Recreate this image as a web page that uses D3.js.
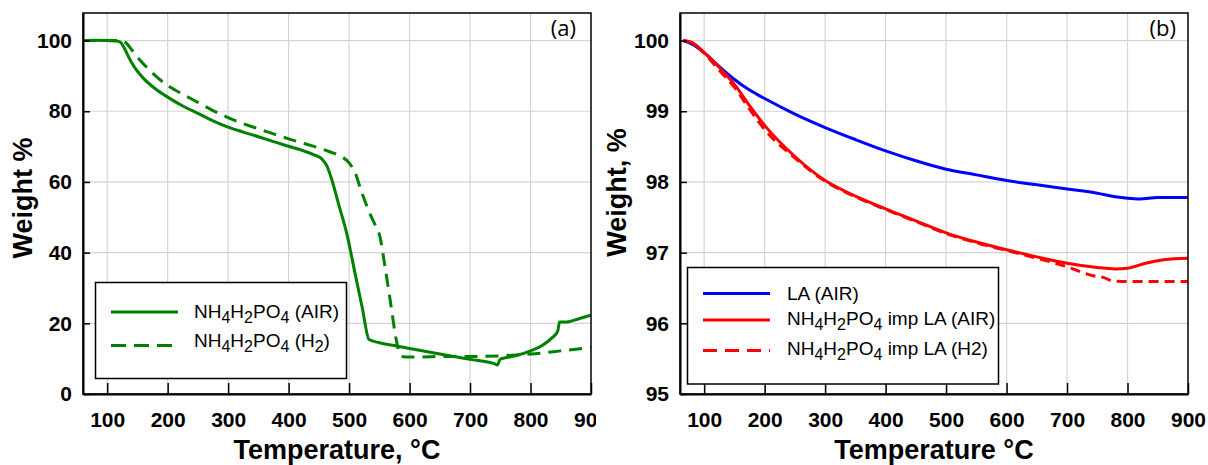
<!DOCTYPE html>
<html>
<head>
<meta charset="utf-8">
<script src="https://cdn.jsdelivr.net/npm/d3@7"></script>
<style>
  html, body { margin: 0; padding: 0; background: #fff; }
  svg { display: block; font-family: "Liberation Sans", Arial, sans-serif; }
</style>
</head>
<body>
<svg id="chart" width="1208" height="465"></svg>
<script>
// ---- data ----
const xTicks = [100, 200, 300, 400, 500, 600, 700, 800, 900];
const yTicksA = [0, 20, 40, 60, 80, 100];
const yTicksB = [95, 96, 97, 98, 99, 100];

// panel (a): NH4H2PO4 in air
const airT = [60, 80, 100, 115, 122, 128, 135, 145, 160, 180, 200, 225, 250, 275, 300, 325, 350, 375, 400, 425, 443, 455, 463, 470, 483, 496, 510, 522, 533, 550, 575, 600, 650, 700, 740, 745, 750, 775, 800, 820, 835, 845, 848, 860, 880, 900];
const airW = [100, 100.1, 100, 99.9, 99.5, 98, 95.5, 92.5, 89.3, 86.3, 84, 81.5, 79.4, 77.3, 75.5, 74.1, 72.8, 71.4, 70.1, 68.8, 67.6, 66.5, 64.6, 61.4, 53.5, 45.5, 34, 24.2, 15.4, 14.5, 13.7, 12.9, 11.3, 9.8, 8.6, 8.2, 9.9, 10.8, 12.2, 13.8, 15.8, 17.8, 20.4, 20.4, 21.3, 22.3];
// panel (a): NH4H2PO4 in H2
const h2T = [60, 100, 125, 132, 140, 150, 165, 180, 200, 225, 250, 275, 300, 325, 350, 375, 400, 425, 450, 470, 485, 500, 510, 520, 534, 544, 551, 558, 568, 578, 584, 592, 620, 650, 700, 750, 800, 850, 900];
const h2W = [100, 100, 100, 99.2, 97.5, 95.3, 92.5, 90, 87.3, 84.8, 82.5, 80.2, 78.2, 76.5, 75, 73.6, 72.2, 70.9, 69.6, 68.4, 67.4, 65.4, 62.6, 57.5, 51.2, 47.5, 44.5, 37.5, 26.5, 15.3, 11.2, 10.5, 10.5, 10.6, 10.6, 10.8, 11.3, 12.2, 13.2];

// panel (b): LA in air
const laT = [65, 80, 100, 125, 150, 175, 200, 250, 300, 350, 400, 450, 500, 550, 600, 650, 700, 750, 780, 800, 820, 850, 900];
const laW = [100, 99.95, 99.83, 99.63, 99.45, 99.3, 99.18, 98.96, 98.77, 98.6, 98.44, 98.3, 98.18, 98.1, 98.02, 97.96, 97.9, 97.84, 97.79, 97.77, 97.76, 97.78, 97.78];
// panel (b): NH4H2PO4 impregnated LA in air
const impAirT = [65, 80, 100, 125, 150, 175, 200, 250, 300, 350, 400, 450, 500, 550, 600, 650, 700, 750, 780, 800, 830, 860, 900];
const impAirW = [100, 99.97, 99.83, 99.62, 99.38, 99.08, 98.8, 98.36, 98.02, 97.8, 97.62, 97.45, 97.28, 97.15, 97.04, 96.94, 96.85, 96.79, 96.77, 96.78, 96.85, 96.9, 96.92];
// panel (b): NH4H2PO4 impregnated LA in H2
const impH2T = [65, 80, 100, 125, 150, 175, 200, 250, 300, 350, 400, 450, 500, 550, 600, 650, 700, 725, 745, 760, 775, 800, 850, 900];
const impH2W = [100, 99.97, 99.82, 99.58, 99.34, 99.03, 98.74, 98.34, 98.01, 97.79, 97.61, 97.44, 97.27, 97.14, 97.03, 96.92, 96.8, 96.72, 96.67, 96.65, 96.6, 96.59, 96.59, 96.59];

const zip = (xs, ys) => xs.map((x, i) => [x, ys[i]]);

const svg = d3.select("#chart");

// left panel is clipped on its right side like in the original figure
svg.append("defs").append("clipPath").attr("id", "clipA")
    .append("rect").attr("x", 0).attr("y", 0).attr("width", 596).attr("height", 465);

function drawPanel(g, opt) {
    const x = d3.scaleLinear().domain([60, 900]).range([opt.left, opt.right]);
    const y = d3.scaleLinear().domain(opt.yDomain).range([394, 13]);

    // grid
    g.append("g").selectAll("line").data(xTicks.slice(0, -1)).enter().append("line")
        .attr("x1", d => x(d)).attr("x2", d => x(d))
        .attr("y1", y.range()[0]).attr("y2", y.range()[1])
        .attr("stroke", "#d4d4d4").attr("stroke-width", 1.2);
    g.append("g").selectAll("line").data(opt.yTicks.slice(1)).enter().append("line")
        .attr("x1", opt.left).attr("x2", opt.right)
        .attr("y1", d => y(d)).attr("y2", d => y(d))
        .attr("stroke", "#d4d4d4").attr("stroke-width", 1.2);

    // series
    const line = d3.line().x(d => x(d[0])).y(d => y(d[1])).curve(d3.curveMonotoneX);
    opt.series.forEach(s => {
        g.append("path")
            .attr("d", line(zip(s.t, s.w)))
            .attr("fill", "none")
            .attr("stroke", s.color)
            .attr("stroke-width", 3)
            .attr("stroke-dasharray", s.dash || null);
    });

    // frame
    g.append("rect")
        .attr("x", opt.left).attr("y", 13)
        .attr("width", opt.right - opt.left).attr("height", 394 - 13)
        .attr("fill", "none").attr("stroke", "#000").attr("stroke-width", 1.5);

    // axes
    const xAxis = d3.axisBottom(x).tickValues(xTicks).tickSizeInner(-11).tickSizeOuter(0).tickPadding(18);
    const yAxis = d3.axisLeft(y).tickValues(opt.yTicks).tickFormat(d3.format("d"))
        .tickSizeInner(-7).tickSizeOuter(0).tickPadding(11);

    const gx = g.append("g").attr("transform", "translate(0,394)").call(xAxis);
    const gy = g.append("g").attr("transform", "translate(" + opt.left + ",0)").call(yAxis);
    [gx, gy].forEach(a => {
        a.select(".domain").attr("stroke", "#000").attr("stroke-width", 2);
        a.selectAll(".tick line").attr("stroke", "#000").attr("stroke-width", 1.5);
        a.selectAll(".tick text")
            .attr("font-family", "Liberation Sans, Arial, sans-serif")
            .attr("font-size", 21).attr("font-weight", "bold").attr("fill", "#000");
    });

    // axis titles
    g.append("text")
        .attr("x", (opt.left + opt.right) / 2).attr("y", 459)
        .attr("text-anchor", "middle")
        .attr("font-size", 27).attr("font-weight", "bold")
        .text(opt.xTitle);
    g.append("text")
        .attr("transform", "translate(" + opt.yTitleX + "," + opt.yTitleY + ") rotate(-90)")
        .attr("text-anchor", "middle")
        .attr("font-size", 27).attr("font-weight", "bold")
        .text(opt.yTitle);

    // panel tag
    g.append("text")
        .attr("x", opt.tagX).attr("y", 36)
        .attr("text-anchor", "end")
        .attr("font-family", "Open Sans, sans-serif")
        .attr("font-size", 22)
        .text(opt.tag);

    // legend
    const L = opt.legend;
    g.append("rect")
        .attr("x", L.x).attr("y", L.y).attr("width", L.w).attr("height", L.h)
        .attr("fill", "#fff").attr("stroke", "#000").attr("stroke-width", 1.5);
    L.items.forEach(it => {
        g.append("line")
            .attr("x1", L.lineX1).attr("x2", L.lineX2)
            .attr("y1", it.ly).attr("y2", it.ly)
            .attr("stroke", it.color).attr("stroke-width", 3)
            .attr("stroke-dasharray", it.dash || null);
        const t = g.append("text")
            .attr("x", L.textX).attr("y", it.ty)
            .attr("font-size", 19).attr("fill", "#000");
        // "_" marks a subscript character
        const parts = it.label.split(/(_\d)/).filter(p => p.length);
        let shifted = false;
        parts.forEach(p => {
            if (p[0] === "_") {
                t.append("tspan").attr("dy", 5).attr("font-size", 16).text(p.slice(1));
                shifted = true;
            } else {
                t.append("tspan").attr("dy", shifted ? -5 : 0).text(p);
                shifted = false;
            }
        });
    });
}

const gA = svg.append("g").attr("clip-path", "url(#clipA)");
drawPanel(gA, {
    left: 83, right: 591,
    yDomain: [0, 107.8], yTicks: yTicksA,
    xTitle: "Temperature, °C", yTitle: "Weight %",
    yTitleX: 32, yTitleY: 198,
    tag: "(a)", tagX: 576,
    series: [
        { t: airT, w: airW, color: "#008000" },
        { t: h2T, w: h2W, color: "#008000", dash: "13,8" }
    ],
    legend: {
        x: 95.5, y: 282.5, w: 251, h: 96,
        lineX1: 111, lineX2: 178, textX: 194,
        items: [
            { label: "NH_4H_2PO_4 (AIR)", color: "#008000", ly: 312, ty: 318 },
            { label: "NH_4H_2PO_4 (H_2)", color: "#008000", dash: "15,8", ly: 345.5, ty: 346.5 }
        ]
    }
});

const gB = svg.append("g");
drawPanel(gB, {
    left: 680, right: 1188,
    yDomain: [95, 100.39], yTicks: yTicksB,
    xTitle: "Temperature °C", yTitle: "Weight, %",
    yTitleX: 626, yTitleY: 192.5,
    tag: "(b)", tagX: 1176,
    series: [
        { t: laT, w: laW, color: "#0000ff" },
        { t: impH2T, w: impH2W, color: "#ff0000", dash: "10,6" },
        { t: impAirT, w: impAirW, color: "#ff0000" }
    ],
    legend: {
        x: 687.5, y: 267.5, w: 311, h: 116.5,
        lineX1: 703, lineX2: 770, textX: 787,
        items: [
            { label: "LA (AIR)", color: "#0000ff", ly: 293.5, ty: 300 },
            { label: "NH_4H_2PO_4 imp LA (AIR)", color: "#ff0000", ly: 320, ty: 325 },
            { label: "NH_4H_2PO_4 imp LA (H2)", color: "#ff0000", dash: "14,8", ly: 350.5, ty: 355 }
        ]
    }
});
</script>
</body>
</html>
